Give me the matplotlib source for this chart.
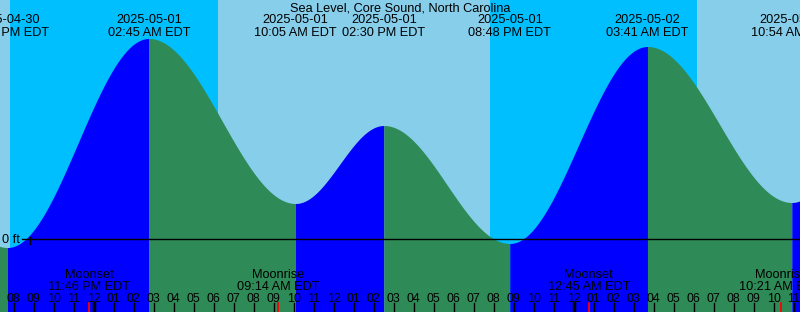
#!/usr/bin/env python3
from datetime import datetime
import numpy as np
import matplotlib

matplotlib.use('Agg')
import matplotlib.pyplot as plt
from matplotlib.transforms import blended_transform_factory

plt.rcParams['font.family'] = ['Liberation Sans', 'DejaVu Sans']

TITLE = "Sea Level, Core Sound, North Carolina"
ORIGIN = datetime(2025, 5, 1, 0, 0)

# tide extremes (first and last are outside the window, only shape the ends)
TIDE_TIMES = ["2025-04-30 13:30", "2025-04-30 19:41", "2025-05-01 02:45",
              "2025-05-01 10:05", "2025-05-01 14:30", "2025-05-01 20:48",
              "2025-05-02 03:41", "2025-05-02 10:54", "2025-05-02 15:10"]
TIDE_FT = [1.10, -0.09, 2.00, 0.35, 1.13, -0.05, 1.92, 0.36, 1.10]

MOON_EVENTS = ["Moonset", "Moonrise", "Moonset", "Moonrise"]
MOON_TIMES = ["2025-04-30 23:46", "2025-05-01 09:14",
              "2025-05-02 00:45", "2025-05-02 10:21"]

# night = between sunset and the next sunrise
NIGHTS = [("2025-04-30 19:49", "2025-05-01 06:13"),
          ("2025-05-01 19:50", "2025-05-02 06:11")]

DAY_COL = "#87CEEB"
NIGHT_COL = "#00BFFF"
RISE_COL = "#0000FF"
FALL_COL = "#2E8B57"

W, H = 800, 312
PX_PER_HR = 20.0
X0_PX = 93.8          # pixel of 2025-05-01 00:00
PX_PER_FT = 100.0
Y0_PX = 238.5         # pixel of 0 ft
FS = 9.2


def hours(s):
    return (datetime.strptime(s, "%Y-%m-%d %H:%M") - ORIGIN).total_seconds() / 3600.0


def fmt12(s):
    d = datetime.strptime(s, "%Y-%m-%d %H:%M")
    return d.strftime("%I:%M %p") + " EDT"


def fy(py):
    # pixel row -> axes fraction
    return 1 - py / H


fig = plt.figure(figsize=(8, 3.12), dpi=100)
ax = fig.add_axes([0, 0, 1, 1])
ax.set_xlim(-X0_PX / PX_PER_HR, (W - X0_PX) / PX_PER_HR)
ax.set_ylim((Y0_PX - H) / PX_PER_FT, Y0_PX / PX_PER_FT)
ax.axis('off')
ax.add_patch(plt.Rectangle((0, 0), 1, 1, transform=ax.transAxes, color=DAY_COL, zorder=0))

for a, b in NIGHTS:
    ax.axvspan(hours(a), hours(b), color=NIGHT_COL, lw=0, zorder=1)

# tide curve, filled below
th = [hours(s) for s in TIDE_TIMES]
ybot = ax.get_ylim()[0]
for i in range(len(th) - 1):
    t0, t1 = th[i], th[i + 1]
    h0, h1 = TIDE_FT[i], TIDE_FT[i + 1]
    t = np.linspace(t0, t1, 300)
    h = h0 + (h1 - h0) * (1 - np.cos(np.pi * (t - t0) / (t1 - t0))) / 2
    col = RISE_COL if h1 > h0 else FALL_COL
    ax.fill_between(t, h, ybot, color=col, lw=0, antialiased=False, zorder=2)

trans = blended_transform_factory(ax.transData, ax.transAxes)

# zero line
xl = ax.get_xlim()
ax.plot([xl[0] + 21.7 / PX_PER_HR, xl[1]], [0, 0], color='black', lw=1.0, zorder=4)
ax.plot([xl[0] + 30 / PX_PER_HR] * 2, [fy(236.5), fy(244)], color='black', lw=1.0,
        transform=trans, zorder=4)
ax.text(2 / W, fy(242.7), "0 ft", transform=ax.transAxes, fontsize=FS,
        va='baseline', ha='left', zorder=5)

ax.text(0.5, fy(11.7), TITLE, transform=ax.transAxes, fontsize=FS,
        ha='center', va='baseline', zorder=5)

# tide event labels
for s in TIDE_TIMES[1:-1]:
    x = hours(s)
    ax.text(x, fy(23.3), s[:10], transform=trans, fontsize=FS,
            ha='center', va='baseline', zorder=5)
    ax.text(x, fy(36), fmt12(s), transform=trans, fontsize=FS,
            ha='center', va='baseline', zorder=5)

# moon events
for name, s in zip(MOON_EVENTS, MOON_TIMES):
    x = hours(s)
    ax.text(x, fy(278.3), name, transform=trans, fontsize=FS,
            ha='center', va='baseline', zorder=5)
    ax.text(x, fy(290), fmt12(s), transform=trans, fontsize=FS,
            ha='center', va='baseline', zorder=5)
    ax.plot([x, x], [fy(303), 0], color='red', lw=1.3, transform=trans, zorder=4)

# hour ticks
for hr in range(int(np.floor(xl[0])), int(np.ceil(xl[1])) + 1):
    lw = 2.5 if hr % 24 == 0 else 1.0
    ax.plot([hr, hr], [fy(303), 0], color='black', lw=lw, transform=trans, zorder=4)
    lab = "%02d" % ((hr % 12) or 12)
    ax.text(hr, fy(302.3), lab, transform=trans, fontsize=8.9,
            ha='center', va='baseline', zorder=5)

plt.savefig('out.png', dpi=100)
